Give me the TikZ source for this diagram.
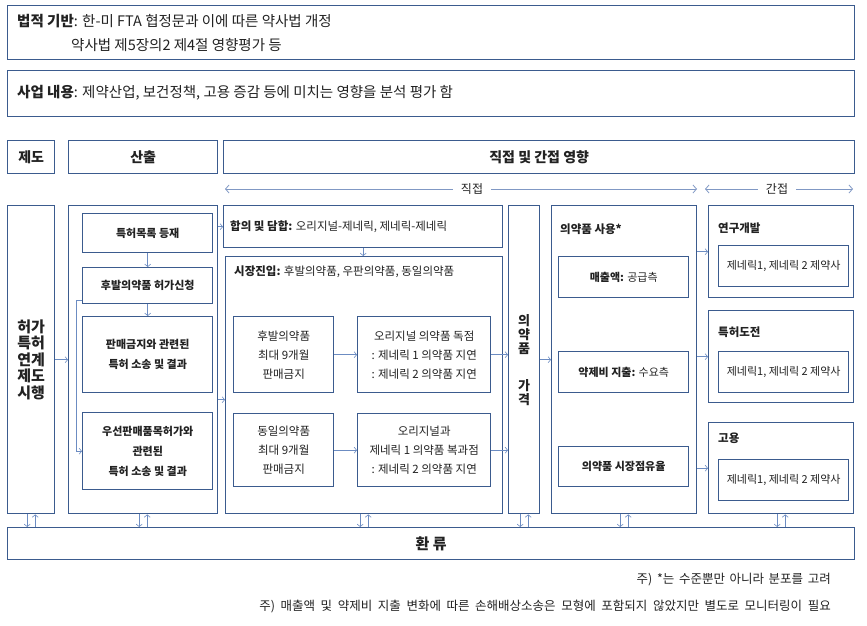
\documentclass[tikz,border=0pt]{standalone}
\usepackage{fontspec}
\setmainfont{Noto Sans CJK KR}
\usetikzlibrary{arrows.meta,calc}
\definecolor{boxc}{HTML}{3B5B8E}
\definecolor{arrc}{HTML}{6C8CC2}
\definecolor{hdrc}{HTML}{8098C4}
\definecolor{txt}{HTML}{222222}
\tikzset{
  box/.style={draw=boxc, line width=1.4pt, fill=white, inner sep=0pt, anchor=north west, align=center, text=txt, font=\fontsize{11}{19.5}\selectfont},
  mid/.style={font=\fontsize{11.5}{19}\selectfont},
  bb/.style={font=\fontsize{11}{20}\selectfont\bfseries},
  arr/.style={draw=arrc, line width=0.6pt, -{Straight Barb[length=2.5pt,width=6pt]}},
  hdr/.style={draw=hdrc, line width=0.8pt, {Straight Barb[length=3.5pt,width=8pt]}-{Straight Barb[length=3.5pt,width=8pt]}},
  lbl/.style={anchor=west, inner sep=0pt, text=txt, font=\fontsize{11.5}{13}\selectfont},
  big/.style={font=\fontsize{14.5}{16}\selectfont},
  hd/.style={font=\fontsize{14}{16}\selectfont\bfseries},
  note/.style={anchor=east, inner sep=0pt, text=txt, font=\fontsize{12.5}{14}\selectfont},
}
\newcommand\bx[7][]{\node[box, #1, minimum width={#5-#3}, minimum height={#6-#4}] (#2) at (#3,#4) {#7};}
\newcommand\fbk[1]{%
  \draw[arr] ([xshift=-4pt]#1.south) -- ([xshift=-4pt]#1.south |- fb.north);
  \draw[arr] ([xshift=4pt]#1.south |- fb.north) -- ([xshift=4pt]#1.south);}
\begin{document}
\begin{tikzpicture}[x=1pt,y=-1pt]
\useasboundingbox (0,0) rectangle (867,626);
% top boxes
\bx{law}{7}{5}{854}{59}{}
\node[lbl, big] (lawt1) at (17,21) {\textbf{법적 기반}: 한-미 FTA 협정문과 이에 따른 약사법 개정};
\node[lbl, big] (lawt2) at (71,45) {약사법 제5장의2 제4절 영향평가 등};
\bx{biz}{7}{70}{854}{116}{}
\node[lbl, big] (bizt) at (17,93) {\textbf{사업 내용}: 제약산업, 보건정책, 고용 증감 등에 미치는 영향을 분석 평가 함};
% headers
\bx[hd]{hsys}{7}{140}{54}{173}{제도}
\bx[hd]{hout}{68}{140}{217}{173}{산출}
\bx[hd]{himp}{223}{140}{854}{173}{직접 및 간접 영향}
\coordinate (d1) at (225,189); \coordinate (d2) at (697,189);
\draw[hdr] (d1) -- (d2);
\node[fill=white, inner xsep=8pt, text=txt, font=\fontsize{12}{14}\selectfont] (dl) at (472,189) {직접};
\coordinate (i1) at (705,189); \coordinate (i2) at (853,189);
\draw[hdr] (i1) -- (i2);
\node[fill=white, inner xsep=8pt, text=txt, font=\fontsize{12}{14}\selectfont] (il) at (777,189) {간접};
% system column
\bx[font=\fontsize{15}{16.5}\selectfont\bfseries]{heo}{7}{205}{54}{513}{허가\\특허\\연계\\제도\\시행}
% output column
\bx{san}{68}{205}{217}{513}{}
\bx[bb]{p1}{82}{213}{212}{252}{특허목록 등재}
\bx[bb]{p2}{82}{267}{212}{303}{후발의약품 허가신청}
\bx[bb]{p3}{82}{316}{212}{392}{판매금지와 관련된\\특허 소송 및 결과}
\bx[bb]{p4}{82}{412}{212}{489}{우선판매품목허가와\\관련된\\특허 소송 및 결과}
% agreement / market entry
\bx{agr}{223}{205}{502}{247}{}
\node[lbl] (agrt) at (230,227) {\textbf{합의 및 담합:} 오리지널-제네릭, 제네릭-제네릭};
\bx{mkt}{225}{256}{502}{513}{}
\node[lbl] (mktt) at (234,272) {\textbf{시장진입:} 후발의약품, 우판의약품, 동일의약품};
\bx[mid]{m1}{233}{316}{333}{392}{후발의약품\\최대 9개월\\판매금지}
\bx[mid]{m2}{357}{316}{490}{392}{오리지널 의약품 독점\\: 제네릭 1 의약품 지연\\: 제네릭 2 의약품 지연}
\bx[mid]{m3}{233}{413}{333}{486}{동일의약품\\최대 9개월\\판매금지}
\bx[mid]{m4}{357}{413}{490}{486}{오리지널과\\제네릭 1 의약품 복과점\\: 제네릭 2 의약품 지연}
% price
\bx[font=\fontsize{13}{14}\selectfont\bfseries]{price}{508}{205}{539}{513}{의\\약\\품\\[23pt]가\\격}
% use
\bx{use}{551}{205}{696}{513}{}
\node[lbl] (uset) at (560,229) {\textbf{의약품 사용*}};
\bx{u1}{558}{256}{688}{297}{\textbf{매출액:} 공급측}
\bx{u2}{558}{351}{688}{392}{\textbf{약제비 지출:} 수요측}
\bx{u3}{558}{446}{688}{486}{\textbf{의약품 시장점유율}}
% indirect
\bx{r1}{708}{205}{853}{297}{}
\node[lbl] (r1t) at (718,228) {\textbf{연구개발}};
\bx{r1i}{718}{245}{848}{286}{제네릭1, 제네릭 2 제약사}
\bx{r2}{708}{310}{853}{402}{}
\node[lbl] (r2t) at (718,332) {\textbf{특허도전}};
\bx{r2i}{718}{351}{848}{392}{제네릭1, 제네릭 2 제약사}
\bx{r3}{708}{422}{853}{513}{}
\node[lbl] (r3t) at (718,438) {\textbf{고용}};
\bx{r3i}{718}{459}{848}{500}{제네릭1, 제네릭 2 제약사}
% feedback
\bx[font=\fontsize{15}{17}\selectfont\bfseries]{fb}{7}{527}{854}{559}{환 류}
% notes
\node[note] (n1) at (831,580) {\spaceskip=4.6pt\relax 주) *는 수준뿐만 아니라 분포를 고려};
\node[note] (n2) at (831,606) {\spaceskip=5.6pt\relax 주) 매출액 및 약제비 지출 변화에 따른 손해배상소송은 모형에 포함되지 않았지만 별도로 모니터링이 필요};
% connectors
\draw[arr] (heo.east) -- (san.west);
\draw[arr] (p1.south) -- (p2.north);
\draw[arr] (p2.south) -- (p3.north);
\draw[arr] ([yshift=4pt]p2.south west) -- ++(-6,0) |- (p4.west);
\draw[arr] (agr.west -| san.east) -- (agr.west);
\draw[arr] ([yshift=-40pt]san.east) -- ([yshift=-40pt]san.east -| mkt.west);
\draw[arr] (agr.south) -- (agr.south |- mkt.north);
\draw[arr] (m1.east) -- (m2.west);
\draw[arr] (m3.east) -- (m4.west);
\draw[arr] (m2.east) -- (m2.east -| price.west);
\draw[arr] (m4.east) -- (m4.east -| price.west);
\draw[arr] (price.east) -- (use.west);
\draw[arr] (r1.west -| use.east) -- (r1.west);
\draw[arr] (r2.west -| use.east) -- (r2.west);
\draw[arr] (r3.west -| use.east) -- (r3.west);
\fbk{heo}\fbk{san}\fbk{mkt}\fbk{price}\fbk{use}\fbk{r3}
\end{tikzpicture}
\end{document}
